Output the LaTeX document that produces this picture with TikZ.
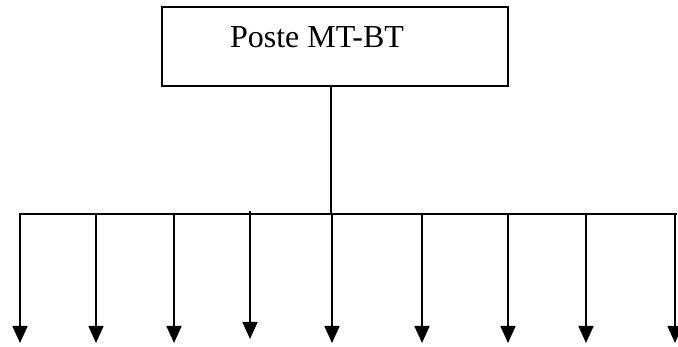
\documentclass[tikz,border=0pt]{standalone}
\usepackage{fontspec}
\setmainfont{Liberation Serif}
\usepackage{tikz}
\usetikzlibrary{arrows.meta}

\begin{document}
\begin{tikzpicture}[x=1pt,y=1pt,
  poste/.style={draw,line width=2pt,minimum width=346pt,minimum height=79pt,inner sep=0pt},
  fil/.style={line width=1.6pt},
  depart/.style={line width=1.6pt,-{Triangle[length=17pt,width=15pt]}}]
 \useasboundingbox (0,0) rectangle (678,347);
  \node[poste] (poste) at (335,300.5) {};
  \node[anchor=base,font=\fontsize{32}{38}\selectfont] (nom) at (317,299) {Poste MT-BT};
%  le jeu de barres
  \coordinate (b0) at (19,133);
  \coordinate (b9) at (677,133);
  \coordinate (bc) at (331,133);
  \draw[fil] (b0) -- (b9);
  \draw[fil] (poste.south -| bc) -- (bc);

  \coordinate (d1) at (20,133);  \coordinate (f1) at (20,4);
  \coordinate (d2) at (96,133);  \coordinate (f2) at (96,4);
  \coordinate (d3) at (174,133); \coordinate (f3) at (174,4);
  \coordinate (d4) at (250,136); \coordinate (f4) at (250,8);
  \coordinate (d5) at (332,133); \coordinate (f5) at (332,4);
  \coordinate (d6) at (422,133); \coordinate (f6) at (422,4);
  \coordinate (d7) at (508,133); \coordinate (f7) at (508,4);
  \coordinate (d8) at (586,133); \coordinate (f8) at (586,4);
  \coordinate (d9) at (675,133); \coordinate (f9) at (675,4);
  \draw[depart] (d1) -- (f1);
  \draw[depart] (d2) -- (f2);
  \draw[depart] (d3) -- (f3);
  \draw[depart] (d4) -- (f4);
  \draw[depart] (d5) -- (f5);
  \draw[depart] (d6) -- (f6);
  \draw[depart] (d7) -- (f7);
  \draw[depart] (d8) -- (f8);
  \draw[depart] (d9) -- (f9);
\end{tikzpicture}
\end{document}
